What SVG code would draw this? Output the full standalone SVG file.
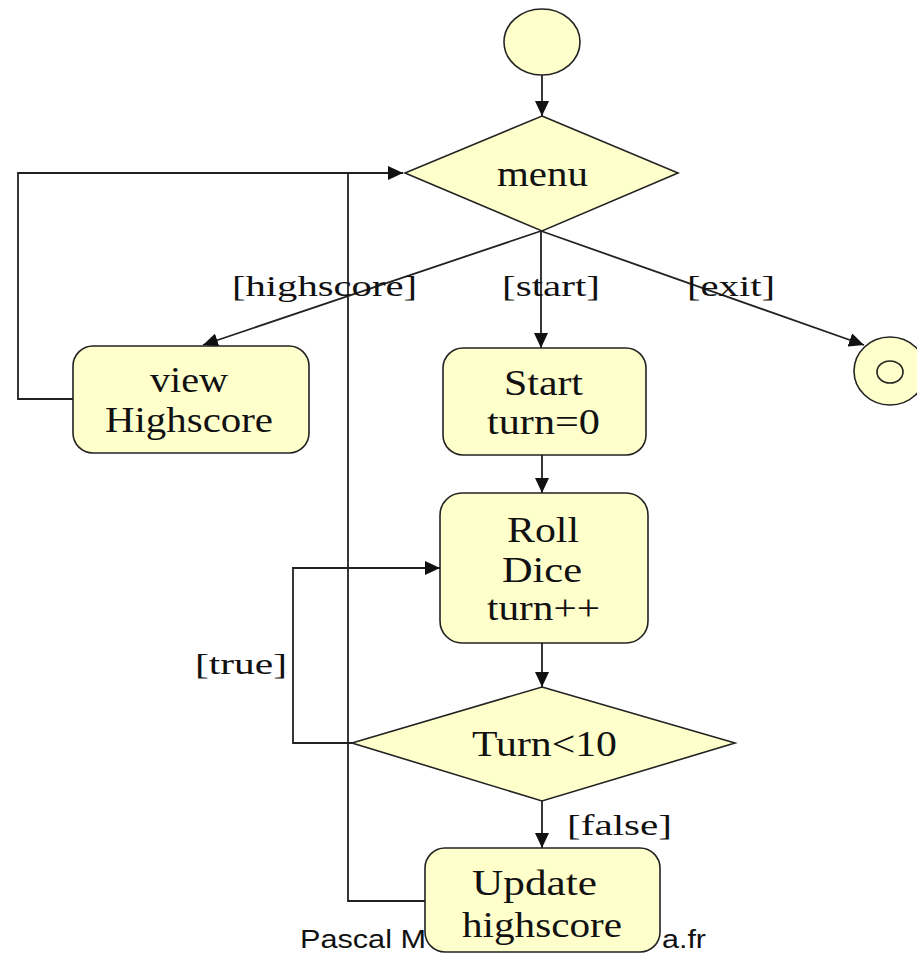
<svg xmlns="http://www.w3.org/2000/svg" width="917" height="956" viewBox="0 0 917 956">
  <defs>
    <marker id="arrow" markerUnits="userSpaceOnUse" markerWidth="16" markerHeight="14" refX="15" refY="7" orient="auto">
      <path d="M0,0 L15,7 L0,14 z" fill="#111"/>
    </marker>
    <style>
      .node { fill: #ffffcc; stroke: #222; stroke-width: 1.6; }
      .edge { fill: none; stroke: #222; stroke-width: 1.8; }
      .lbl { font-family: "Liberation Serif", "Times New Roman", serif; font-size: 35px; fill: #111; }
      .guard { font-family: "Liberation Serif", "Times New Roman", serif; font-size: 30px; fill: #111; }
      .foot { font-family: "Liberation Sans", Arial, sans-serif; font-size: 26px; fill: #111; }
    </style>
  </defs>

  <rect width="917" height="956" fill="#ffffff"/>

  <!-- footer, partly hidden behind the last action -->
  <text class="foot" x="300" y="948" textLength="126" lengthAdjust="spacingAndGlyphs">Pascal M</text>
  <text class="foot" x="662" y="948" textLength="44" lengthAdjust="spacingAndGlyphs">a.fr</text>

  <!-- transitions -->
  <g id="connectors">
    <line class="edge" x1="542" y1="75" x2="542" y2="116" marker-end="url(#arrow)"/>
    <line class="edge" x1="541" y1="231" x2="203" y2="345" marker-end="url(#arrow)"/>
    <line class="edge" x1="541" y1="231" x2="541" y2="348" stroke="#444" marker-end="url(#arrow)"/>
    <line class="edge" x1="541" y1="231" x2="864" y2="345" marker-end="url(#arrow)"/>
    <polyline class="edge" points="73,399 18,399 18,173 403,173" marker-end="url(#arrow)"/>
    <polyline class="edge" points="425,901 348,901 348,173"/>
    <line class="edge" x1="542" y1="455" x2="542" y2="493" marker-end="url(#arrow)"/>
    <line class="edge" x1="542" y1="643" x2="542" y2="687" marker-end="url(#arrow)"/>
    <polyline class="edge" points="352,743 293,743 293,568 440,568" marker-end="url(#arrow)"/>
    <line class="edge" x1="542" y1="801" x2="542" y2="848" marker-end="url(#arrow)"/>

    <text class="guard" x="232" y="296" textLength="185" lengthAdjust="spacingAndGlyphs">[highscore]</text>
    <text class="guard" x="502" y="296" textLength="98" lengthAdjust="spacingAndGlyphs">[start]</text>
    <text class="guard" x="687" y="296" textLength="88" lengthAdjust="spacingAndGlyphs">[exit]</text>
    <text class="guard" x="195" y="674" textLength="92" lengthAdjust="spacingAndGlyphs">[true]</text>
    <text class="guard" x="567" y="835" textLength="105" lengthAdjust="spacingAndGlyphs">[false]</text>
  </g>

  <g id="initial">
    <ellipse class="node" cx="542" cy="42" rx="38" ry="33"/>
  </g>

  <g id="menu">
    <polygon class="node" points="542,116 678,173 542,231 405,173"/>
    <text class="lbl" x="497" y="186" textLength="91" lengthAdjust="spacingAndGlyphs">menu</text>
  </g>

  <g id="view-highscore">
    <rect class="node" x="73" y="346" width="236" height="107" rx="20" ry="20"/>
    <text class="lbl" x="150" y="392" textLength="78" lengthAdjust="spacingAndGlyphs">view</text>
    <text class="lbl" x="105" y="432" textLength="168" lengthAdjust="spacingAndGlyphs">Highscore</text>
  </g>

  <g id="final">
    <ellipse class="node" cx="890" cy="371" rx="36" ry="34"/>
    <ellipse fill="none" stroke="#222" stroke-width="1.6" cx="890" cy="372" rx="13" ry="11"/>
  </g>

  <g id="start">
    <rect class="node" x="443" y="348" width="203" height="107" rx="20" ry="20"/>
    <text class="lbl" x="504" y="395" textLength="79" lengthAdjust="spacingAndGlyphs">Start</text>
    <text class="lbl" x="487" y="434" textLength="113" lengthAdjust="spacingAndGlyphs">turn=0</text>
  </g>

  <g id="roll-dice">
    <rect class="node" x="440" y="493" width="208" height="150" rx="22" ry="22"/>
    <text class="lbl" x="507" y="542" textLength="72" lengthAdjust="spacingAndGlyphs">Roll</text>
    <text class="lbl" x="502" y="582" textLength="80" lengthAdjust="spacingAndGlyphs">Dice</text>
    <text class="lbl" x="487" y="620" textLength="113" lengthAdjust="spacingAndGlyphs">turn++</text>
  </g>

  <g id="turn-check">
    <polygon class="node" points="542,687 735,743 542,801 352,743"/>
    <text class="lbl" x="472" y="756" textLength="145" lengthAdjust="spacingAndGlyphs">Turn&lt;10</text>
  </g>

  <g id="update-highscore">
    <rect class="node" x="425" y="848" width="235" height="104" rx="20" ry="20"/>
    <text class="lbl" x="472" y="895" textLength="125" lengthAdjust="spacingAndGlyphs">Update</text>
    <text class="lbl" x="462" y="937" textLength="160" lengthAdjust="spacingAndGlyphs">highscore</text>
  </g>
</svg>
